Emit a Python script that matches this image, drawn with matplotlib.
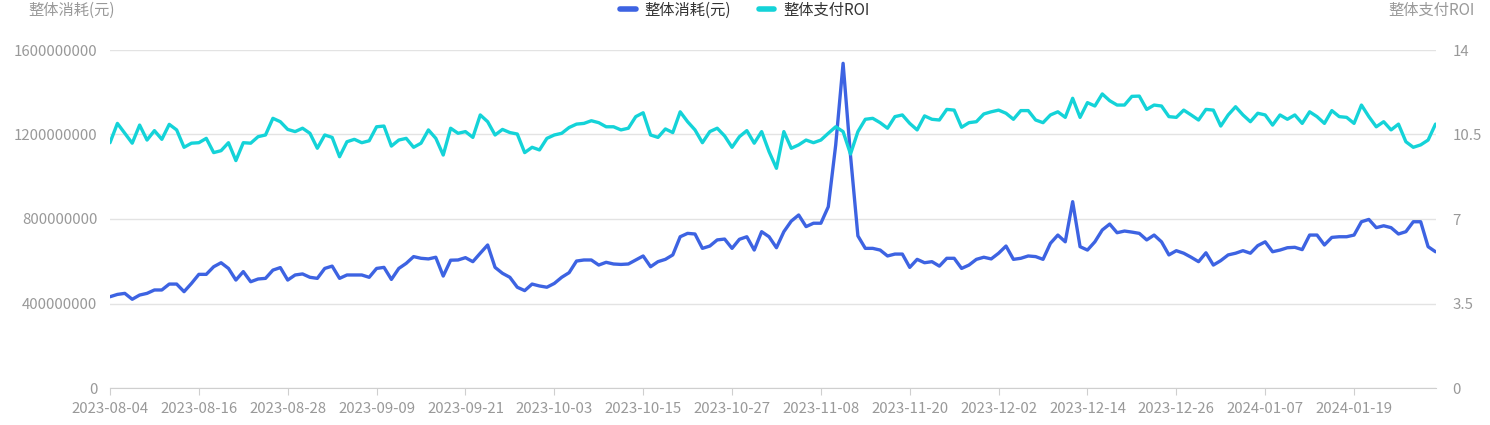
import matplotlib.pyplot as plt
import matplotlib.ticker as mticker
import pandas as pd

plt.rcParams['font.family'] = ['Noto Sans CJK SC', 'DejaVu Sans']

# 日期 (类目轴)
dates = pd.date_range('2023-08-04', periods=180).strftime('%Y-%m-%d').tolist()

# 整体消耗(元), 单位: 百万
cost_m = [432, 443, 448, 420, 440, 448, 464, 464, 492, 492, 456, 495, 538, 538, 574, 593, 566, 511, 551, 503, 516, 519, 558, 570,
          511, 535, 540, 524, 519, 566, 577, 519, 535, 535, 535, 524, 566, 571, 514, 566, 590, 622, 614, 611, 619, 530, 605,
          606, 617, 598, 638, 677, 571, 543, 524, 477, 461, 492, 483, 477, 495, 524, 546, 601, 606, 606, 582, 595, 587, 585,
          587, 606, 625, 574, 598, 609, 630, 716, 732, 729, 661, 672, 701, 705, 661, 704, 716, 653, 740, 716, 664, 740, 790,
          819, 764, 780, 780, 858, 1150, 1537, 1100, 720, 661, 661, 653, 625, 634, 634, 571, 609, 593, 598, 577, 614, 614, 566,
          582, 609, 619, 611, 638, 672, 609, 614, 625, 622, 609, 685, 724, 692, 882, 669, 653, 692, 748, 776, 735, 743, 738,
          732, 701, 724, 692, 630, 650, 638, 619, 598, 640, 582, 603, 630, 638, 650, 638, 674, 692, 645, 653, 664, 666, 655,
          724, 724, 677, 713, 716, 716, 724, 787, 798, 759, 768, 759, 729, 740, 787, 787, 669, 645]
cost = [v * 1e6 for v in cost_m]

# 整体支付ROI
roi = [10.16, 10.96, 10.55, 10.14, 10.89, 10.27, 10.66, 10.30, 10.92, 10.69, 9.97, 10.14, 10.16, 10.34, 9.75, 9.83, 10.16, 9.42, 10.16, 10.14, 10.41, 10.48, 11.17, 11.03,
       10.71, 10.62, 10.76, 10.55, 9.93, 10.48, 10.38, 9.58, 10.20, 10.30, 10.16, 10.24, 10.82, 10.85, 10.02, 10.27, 10.34, 9.97, 10.14, 10.69, 10.34, 9.65, 10.76,
       10.55, 10.62, 10.38, 11.31, 11.03, 10.48, 10.71, 10.58, 10.52, 9.75, 9.97, 9.86, 10.34, 10.48, 10.55, 10.79, 10.93, 10.96, 11.07, 10.99, 10.82, 10.82, 10.69,
       10.76, 11.24, 11.40, 10.48, 10.38, 10.73, 10.58, 11.44, 11.03, 10.69, 10.16, 10.62, 10.76, 10.44, 9.97, 10.41, 10.66, 10.14, 10.62, 9.79, 9.10, 10.62, 9.93,
       10.07, 10.27, 10.16, 10.27, 10.55, 10.82, 10.62, 9.69, 10.62, 11.13, 11.17, 10.99, 10.76, 11.24, 11.31, 10.96, 10.69, 11.27, 11.13, 11.10, 11.54, 11.51, 10.80,
       10.99, 11.03, 11.35, 11.44, 11.51, 11.38, 11.13, 11.49, 11.49, 11.10, 10.99, 11.31, 11.44, 11.21, 12.00, 11.21, 11.82, 11.68, 12.18, 11.90, 11.72, 11.72, 12.08,
       12.09, 11.54, 11.72, 11.68, 11.24, 11.21, 11.51, 11.31, 11.10, 11.54, 11.51, 10.85, 11.31, 11.65, 11.31, 11.03, 11.38, 11.31, 10.89, 11.31, 11.13, 11.31, 10.96,
       11.44, 11.24, 10.96, 11.49, 11.24, 11.21, 10.96, 11.72, 11.24, 10.82, 11.03, 10.69, 10.93, 10.20, 9.97, 10.07, 10.27, 10.93]

left_ticks = [0, 400000000, 800000000, 1200000000, 1600000000]
right_ticks = [0, 3.5, 7, 10.5, 14]

BLUE = '#3d63e2'
CYAN = '#14d3d8'
GRAY = '#999999'

fig = plt.figure(figsize=(14.9, 4.25), dpi=100)
ax = fig.add_axes([110 / 1490, 37 / 425, 1325.5 / 1490, 338 / 425])
ax2 = ax.twinx()

x = list(range(len(dates)))
l1, = ax.plot(x, cost, color=BLUE, lw=2.4, solid_joinstyle='round', solid_capstyle='round', label='整体消耗(元)', zorder=3)
l2, = ax2.plot(x, roi, color=CYAN, lw=2.4, solid_joinstyle='round', solid_capstyle='round', label='整体支付ROI', zorder=3)

ax.set_xlim(0, len(dates) - 1)
ax.set_ylim(0, 1600000000)
ax2.set_ylim(0, 14)
ax.set_yticks(left_ticks)
ax2.set_yticks(right_ticks)
ax.yaxis.set_major_formatter(mticker.FuncFormatter(lambda v, p: f'{int(v)}'))
ax2.yaxis.set_major_formatter(mticker.FuncFormatter(lambda v, p: f'{v:g}'))

ax.set_xticks(x[::12])
ax.set_xticklabels(dates[::12])

ax.grid(axis='y', color='#e3e3e3', lw=1)
ax.set_axisbelow(True)
for a in (ax, ax2):
    for s in ('top', 'left', 'right'):
        a.spines[s].set_visible(False)
    a.spines['bottom'].set_color('#cfcfcf')
ax2.spines['bottom'].set_visible(False)

ax.tick_params(axis='y', length=0, pad=9, labelsize=10.8, labelcolor=GRAY)
ax2.tick_params(axis='y', length=0, pad=12, labelsize=10.8, labelcolor=GRAY)
ax.tick_params(axis='x', length=5, color='#cfcfcf', pad=5, labelsize=10.8, labelcolor=GRAY)

fig.text(28 / 1490, 1 - 10 / 425, '整体消耗(元)', fontsize=11, color=GRAY, ha='left', va='center')
fig.text(1475 / 1490, 1 - 10 / 425, '整体支付ROI', fontsize=11, color=GRAY, ha='right', va='center')

fig.legend(handles=[l1, l2], loc='center', bbox_to_anchor=(0.5, 1 - 10 / 425), ncol=2, frameon=False,
           fontsize=11, handlelength=1.0, handletextpad=0.6, columnspacing=1.8, labelcolor='#333333')
for h in fig.legends[0].get_lines():
    h.set_linewidth(4)

fig.savefig('out.png', dpi=100)
